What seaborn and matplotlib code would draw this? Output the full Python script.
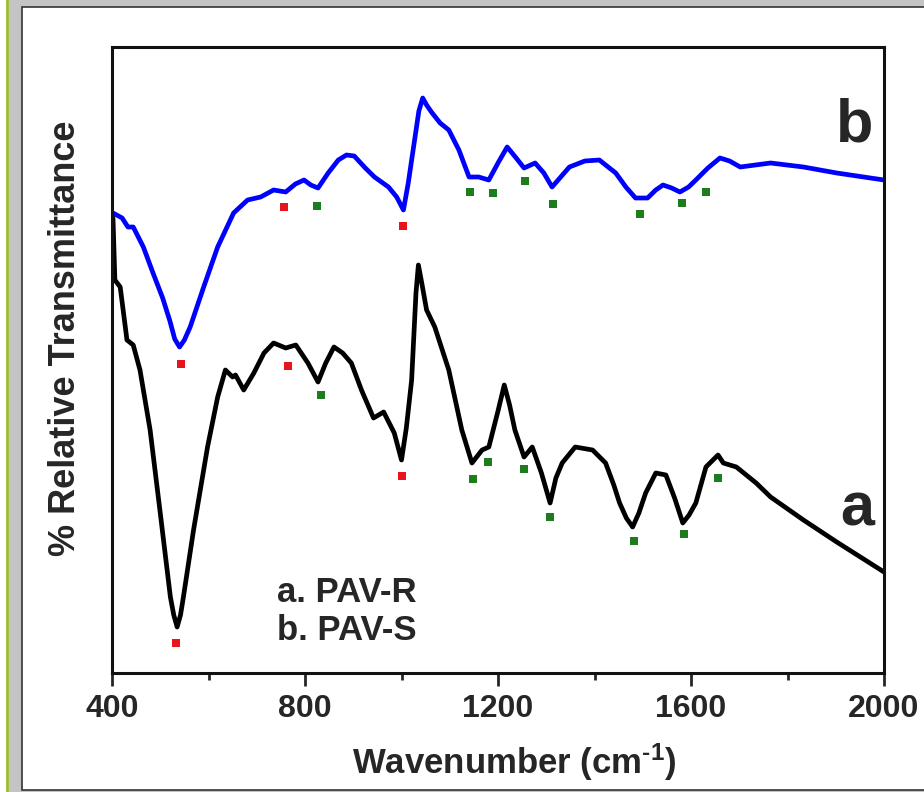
import matplotlib.pyplot as plt
import pandas as pd
import seaborn as sns
from matplotlib.lines import Line2D
from matplotlib.patches import Rectangle
from matplotlib.ticker import MultipleLocator

# spectrum b (PAV-S), arbitrary transmittance units
b_wn = [402, 421, 433, 444, 465, 485, 505, 520, 530, 540, 550, 562, 576, 590, 619, 652,
        681, 708, 735, 760, 780, 798, 812, 827, 848, 869, 886, 902, 925, 944, 973, 990,
        1004, 1014, 1025, 1036, 1044, 1052, 1062, 1080, 1098, 1119, 1140, 1160, 1181,
        1200, 1219, 1236, 1254, 1277, 1295, 1312, 1330, 1348, 1380, 1410, 1444, 1465,
        1485, 1510, 1527, 1542, 1560, 1577, 1595, 1610, 1635, 1660, 1680, 1702, 1765,
        1833, 1902, 2000]
b_trans = [460, 455, 446, 446, 426, 400, 375, 352, 334, 326, 333, 346, 366, 386, 426, 460,
           473, 476, 483, 481, 489, 493, 488, 485, 500, 513, 518, 517, 505, 496, 486, 476,
           463, 490, 526, 562, 575, 568, 561, 550, 543, 523, 496, 496, 493,
           510, 526, 516, 505, 510, 500, 486, 496, 506, 512, 513, 500, 486,
           475, 475, 483, 488, 485, 481, 486, 493, 505, 515, 512, 506, 510,
           506, 500, 493]

# spectrum a (PAV-R)
a_wn = [402, 406, 417, 431, 444, 458, 479, 500, 521, 528, 535, 542, 548, 569, 598, 619,
        635, 650, 656, 673, 694, 715, 735, 760, 781, 806, 827, 843, 860, 878, 896, 917,
        942, 963, 985, 1000, 1010, 1021, 1030, 1035, 1042, 1052, 1069, 1098, 1125, 1146,
        1167, 1181, 1200, 1213, 1224, 1235, 1254, 1271, 1290, 1308, 1320, 1333, 1360,
        1396, 1423, 1440, 1452, 1466, 1479, 1492, 1506, 1527, 1548, 1566, 1583, 1596,
        1610, 1631, 1656, 1667, 1694, 1735, 1765, 1833, 1902, 2000]
a_trans = [455, 393, 386, 333, 328, 303, 243, 160, 76, 58, 46, 58, 76, 143, 226, 276,
           303, 296, 298, 283, 300, 320, 330, 325, 328, 310, 291, 310, 326, 320, 310, 283,
           255, 261, 240, 213, 245, 293, 380, 408, 390, 363, 346, 303, 243, 210,
           223, 226, 262, 288, 268, 243, 216, 226, 200, 170, 195, 210, 226,
           223, 210, 188, 170, 155, 146, 160, 180, 200, 198, 175, 150, 158,
           170, 206, 218, 210, 206, 190, 176, 153, 131, 101]

# band markers
red_wn = [533, 542, 756, 765, 1000, 1004]
red_y = [30, 309, 466, 307, 197, 447]
green_wn = [825, 1142, 1190, 1256, 1315, 1494, 1581, 1631,
            833, 1148, 1179, 1254, 1308, 1481, 1585, 1656]
green_y = [467, 481, 480, 492, 469, 459, 470, 481,
           278, 194, 211, 204, 156, 132, 139, 195]

sns.set_style("ticks")
plt.rcParams["font.family"] = ["Liberation Sans", "DejaVu Sans"]
plt.rcParams["font.weight"] = "bold"
plt.rcParams["mathtext.fontset"] = "custom"
plt.rcParams["mathtext.rm"] = "Liberation Sans:bold"
plt.rcParams["mathtext.bf"] = "Liberation Sans:bold"
plt.rcParams["mathtext.default"] = "bf"

W, H = 924, 792
fig = plt.figure(figsize=(W / 100, H / 100), dpi=100)

# page frame around the figure
fig.add_artist(Rectangle((0, 0), 1, 1, transform=fig.transFigure,
                         facecolor="#c4c4c4", edgecolor="none", zorder=-10))
fig.add_artist(Rectangle((0, 0), 6 / W, 1, transform=fig.transFigure,
                         facecolor="white", edgecolor="none", zorder=-9))
fig.add_artist(Rectangle((22 / W, 2 / H), 1.2, (H - 9) / H, transform=fig.transFigure,
                         facecolor="white", edgecolor="#333333", linewidth=1.2, zorder=-8))
fig.add_artist(Line2D([7 / W, 7 / W], [0, 1], transform=fig.transFigure,
                      color="#99c21a", linewidth=1.8))

ax = fig.add_axes([112 / W, (H - 673) / H, 772 / W, 626 / H])

df_a = pd.DataFrame({"wn": a_wn, "t": a_trans})
df_b = pd.DataFrame({"wn": b_wn, "t": b_trans})
sns.lineplot(data=df_b, x="wn", y="t", ax=ax, color="#0000ff", linewidth=3.4,
             estimator=None, sort=False)
sns.lineplot(data=df_a, x="wn", y="t", ax=ax, color="black", linewidth=3.4,
             estimator=None, sort=False)
for line in ax.lines:
    line.set_solid_joinstyle("round")
    line.set_solid_capstyle("round")

sns.scatterplot(x=red_wn, y=red_y, ax=ax, marker="s", s=32, color="#e8141c",
                linewidth=0, zorder=3)
sns.scatterplot(x=green_wn, y=green_y, ax=ax, marker="s", s=32, color="#1d7d1d",
                linewidth=0, zorder=3)

ax.set_xlim(400, 2000)
ax.set_ylim(0, 626)
ax.set_yticks([])
ax.xaxis.set_major_locator(MultipleLocator(400))
ax.xaxis.set_minor_locator(MultipleLocator(200))
ax.tick_params(axis="x", which="major", direction="out", length=9, width=2,
               labelsize=23, pad=6)
ax.tick_params(axis="x", which="minor", direction="out", length=5, width=2)
for sp in ax.spines.values():
    sp.set_visible(True)
    sp.set_linewidth(2.2)
    sp.set_color("#111111")

ax.set_xlabel(r"Wavenumber (cm$^{\text{-}1}$)", fontsize=25, fontweight="bold")
ax.set_ylabel("% Relative Transmittance", fontsize=26, fontweight="bold")
ax.xaxis.set_label_coords(0.521, -0.11)
ax.yaxis.set_label_coords(-0.038, 0.534)

ax.text(1940, 531, "b", fontsize=44, fontweight="bold", ha="center", va="baseline")
ax.text(1944, 148, "a", fontsize=44, fontweight="bold", ha="center", va="baseline")
ax.text(742, 81, "a. PAV-R", fontsize=25, fontweight="bold", ha="left", va="center")
ax.text(742, 43, "b. PAV-S", fontsize=25, fontweight="bold", ha="left", va="center")

fig.savefig("out.png", dpi=100)
